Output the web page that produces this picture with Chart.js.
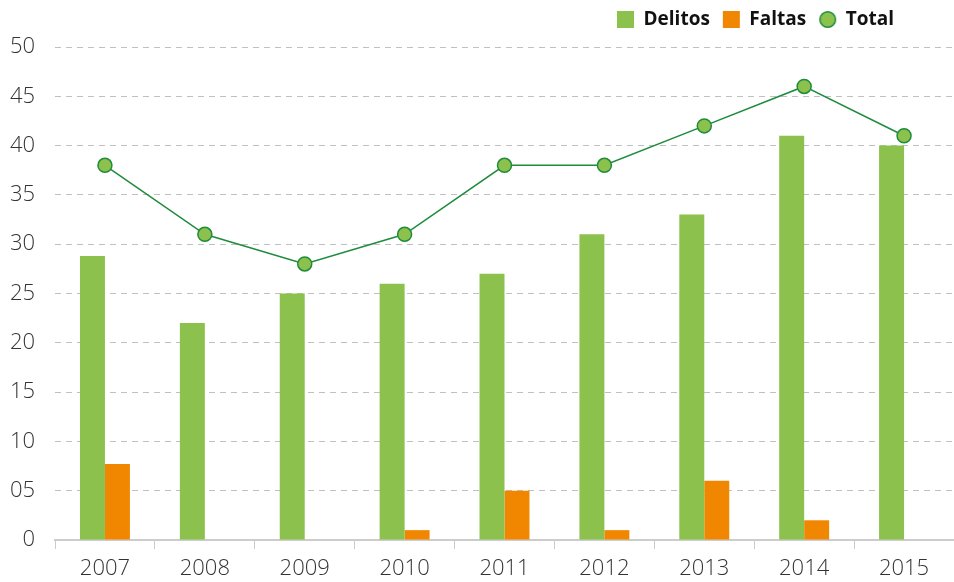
<!DOCTYPE html>
<html>
<head>
<meta charset="utf-8">
<script src="https://cdn.jsdelivr.net/npm/chart.js@4"></script>
<style>
  html, body { margin: 0; padding: 0; background: #fff; overflow: hidden; }
  #wrap { width: 954px; height: 582px; position: relative; }
</style>
</head>
<body>
<div id="wrap"><canvas id="chart"></canvas></div>
<script>
// datos
const years = ['2007', '2008', '2009', '2010', '2011', '2012', '2013', '2014', '2015'];
const delitos = [28.8, 22, 25, 26, 27, 31, 33, 41, 40];
const faltas = [7.7, 0, 0, 1, 5, 1, 6, 2, 0];
const total = [38, 31, 28, 31, 38, 38, 42, 46, 41];

const verde = '#8bc14c';
const naranja = '#f18700';
const verdeOscuro = '#1e8c3c';

// circulo para la leyenda de Total
const circulo = document.createElement('canvas');
circulo.width = 19; circulo.height = 19;
const cctx = circulo.getContext('2d');
cctx.beginPath();
cctx.arc(9.5, 9.5, 7.8, 0, Math.PI * 2);
cctx.fillStyle = verde;
cctx.fill();
cctx.lineWidth = 1.5;
cctx.strokeStyle = verdeOscuro;
cctx.stroke();

// mueve la leyenda a la izquierda y un poco hacia arriba
const legendShift = {
  id: 'legendShift',
  afterLayout(chart) {
    chart.legend.right -= 47;
    chart.legend.top -= 8;
    chart.legend.bottom -= 8;
  }
};

new Chart(document.getElementById('chart'), {
  type: 'bar',
  data: {
    labels: years,
    datasets: [
      {
        type: 'line',
        label: 'Total',
        data: total,
        borderColor: verdeOscuro,
        borderWidth: 1.5,
        backgroundColor: verde,
        pointBackgroundColor: verde,
        pointBorderColor: verdeOscuro,
        pointBorderWidth: 1.5,
        pointRadius: 7,
        tension: 0,
        order: 0
      },
      {
        label: 'Delitos',
        data: delitos,
        backgroundColor: verde,
        pointStyle: 'rect',
        order: 1
      },
      {
        label: 'Faltas',
        data: faltas,
        backgroundColor: naranja,
        pointStyle: 'rect',
        order: 1
      }
    ]
  },
  options: {
    responsive: true,
    maintainAspectRatio: false,
    animation: false,
    layout: { autoPadding: false, padding: { left: 8, right: 0, top: 5, bottom: -7 } },
    datasets: {
      bar: { categoryPercentage: 0.5, barPercentage: 1 }
    },
    scales: {
      x: {
        afterFit(scale) {
          scale.paddingLeft = 0;
          scale.paddingRight = 0;
        },
        grid: {
          offset: true,
          drawOnChartArea: false,
          drawTicks: true,
          tickLength: 9,
          color: '#cccccc'
        },
        border: { color: '#cccccc', width: 2 },
        ticks: {
          color: '#333333',
          font: { family: 'Open Sans', size: 22, weight: 300, lineHeight: 1 },
          padding: 9
        }
      },
      y: {
        min: 0,
        max: 50,
        afterFit(scale) {
          scale.width = 47;
        },
        ticks: {
          stepSize: 5,
          color: '#333333',
          font: { family: 'Open Sans', size: 22, weight: 300 },
          padding: 20,
          callback: v => (v > 0 && v < 10 ? '0' + v : v)
        },
        grid: {
          drawTicks: false,
          color: '#c0c0c0',
          lineWidth: 1
        },
        border: { display: false, dash: [6, 5] }
      }
    },
    plugins: {
      legend: {
        position: 'top',
        align: 'end',
        labels: {
          usePointStyle: true,
          boxHeight: 17,
          pointStyleWidth: 17,
          color: '#111111',
          padding: 13,
          font: { family: 'Open Sans', size: 19, weight: 'bold' },
          generateLabels(chart) {
            const items = Chart.defaults.plugins.legend.labels.generateLabels(chart);
            items.forEach(it => {
              if (it.text === 'Total') it.pointStyle = circulo;
            });
            // orden: Delitos, Faltas, Total
            return [items[1], items[2], items[0]];
          }
        }
      },
      tooltip: { enabled: false }
    }
  },
  plugins: [legendShift]
});
</script>
</body>
</html>
